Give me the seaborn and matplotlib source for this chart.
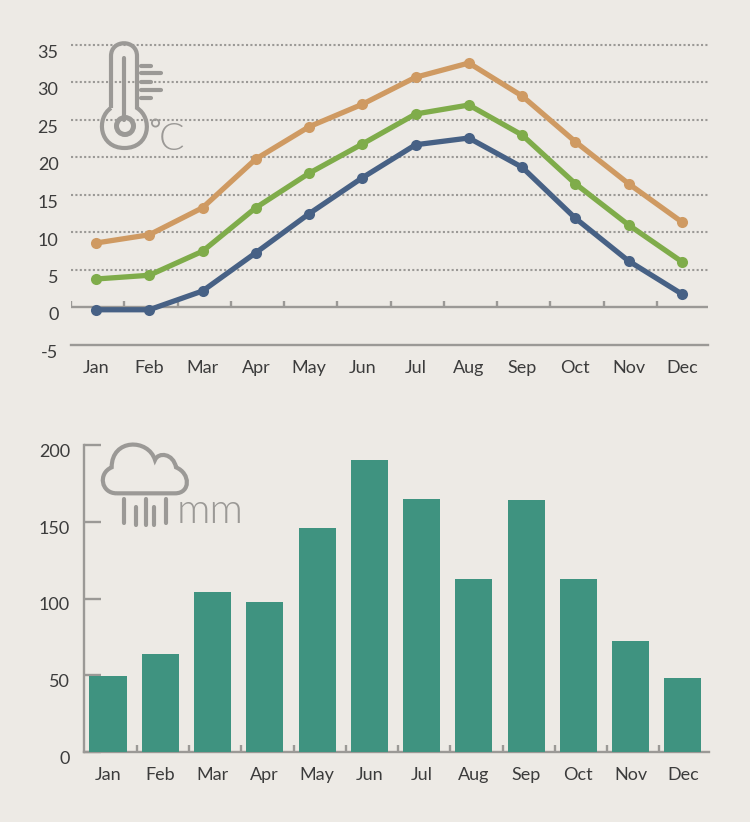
import matplotlib
matplotlib.use("Agg")
import matplotlib.pyplot as plt
import seaborn as sns
import pandas as pd
from matplotlib import font_manager as fm
from matplotlib.patches import Circle, PathPatch
from matplotlib.path import Path
from matplotlib.transforms import ScaledTranslation

months = ["Jan", "Feb", "Mar", "Apr", "May", "Jun", "Jul", "Aug", "Sep", "Oct", "Nov", "Dec"]
temp_high = [8.6, 9.7, 13.3, 19.8, 24.1, 27.1, 30.7, 32.6, 28.2, 22.1, 16.5, 11.4]
temp_mean = [3.8, 4.3, 7.5, 13.3, 17.9, 21.8, 25.8, 27.0, 23.0, 16.5, 11.0, 6.1]
temp_low = [-0.3, -0.3, 2.2, 7.3, 12.5, 17.3, 21.7, 22.6, 18.7, 11.9, 6.2, 1.8]
rain_mm = [49.5, 64, 104, 98, 146, 190, 165, 113, 164, 113, 72, 48]
temp_ticks = [-5, 0, 5, 10, 15, 20, 25, 30, 35]
rain_ticks = [0, 50, 100, 150, 200]

BG = "#EDEAE5"
GREY = "#9B9996"
TEXT = "#3C3C3C"
ORANGE = "#CF9A62"
GREEN = "#7FAC4A"
BLUE = "#476185"
TEAL = "#3F9380"

sns.set_theme(style="white")
plt.rcParams["font.family"] = ["Lato", "DejaVu Sans"]
W, H = 750, 822
fig = plt.figure(figsize=(W / 100, H / 100), dpi=100, facecolor=BG)


def light_font(size):
    # pick a real Light cut (weight "light" alone can resolve to Hairline)
    for fam in ("Lato", "Roboto", "Open Sans", "Noto Sans"):
        for f in fm.fontManager.ttflist:
            base = f.fname.rsplit("/", 1)[-1]
            if f.name == fam and "Light" in base and "Italic" not in base \
                    and "Extra" not in base and "Semi" not in base:
                return fm.FontProperties(fname=f.fname, size=size)
    return fm.FontProperties(family="Lato", size=size)


def px_axes(left, right, top, bottom):
    return fig.add_axes([left / W, 1 - bottom / H, (right - left) / W, (bottom - top) / H])


def shift_labels(ax, dy_px):
    off = ScaledTranslation(0, -dy_px / 100, fig.dpi_scale_trans)
    for lab in ax.get_yticklabels():
        lab.set_transform(lab.get_transform() + off)


# ---------- temperature ----------
ax = px_axes(71, 708, 45, 345)
ax.set_facecolor("none")
df = pd.DataFrame({
    "month": months * 3,
    "temp": temp_high + temp_mean + temp_low,
    "series": ["high"] * 12 + ["mean"] * 12 + ["low"] * 12,
})
sns.lineplot(data=df, x="month", y="temp", hue="series",
             palette={"high": ORANGE, "mean": GREEN, "low": BLUE},
             linewidth=3.8, marker="o", markersize=8, markeredgewidth=0,
             legend=False, ax=ax, zorder=4, clip_on=False, sort=False)
ax.set_xlim(-0.47, 11.49)
ax.set_ylim(-5, 35)
ax.set_xlabel("")
ax.set_ylabel("")
ax.set_yticks(temp_ticks)
ax.set_yticklabels([str(t) for t in temp_ticks])
ax.set_xticks(range(12))
ax.set_xticklabels(months)
ax.tick_params(axis="both", length=0, labelsize=13, labelcolor=TEXT)
ax.tick_params(axis="x", pad=11)
ax.tick_params(axis="y", pad=9)
for t in temp_ticks[2:]:
    ax.axhline(t, color=GREY, lw=1.5, ls=(0, (1, 1.1)), zorder=1, clip_on=False)
ax.axhline(0, color=GREY, lw=1.7, zorder=2)
ax.vlines([i - 0.47 for i in range(13)], 0, 0.85, color=GREY, lw=1.7, zorder=2)
for s in ["top", "left", "right"]:
    ax.spines[s].set_visible(False)
ax.spines["bottom"].set_color(GREY)
ax.spines["bottom"].set_linewidth(1.7)
shift_labels(ax, 6.5)

# ---------- rainfall ----------
ax2 = px_axes(84, 709, 445, 752)
ax2.set_facecolor("none")
sns.barplot(x=months, y=rain_mm, color=TEAL, saturation=1, width=0.71,
            linewidth=0, edgecolor="none", ax=ax2, zorder=3)
ax2.set_xlim(-0.46, 11.5)
ax2.set_ylim(0, 200)
ax2.set_yticks(rain_ticks)
ax2.set_yticklabels([str(t) for t in rain_ticks])
ax2.set_xticks(range(12))
ax2.set_xticklabels(months)
ax2.set_axisbelow(True)
ax2.tick_params(axis="y", left=True, direction="in", length=12, width=1.7, color=GREY,
                labelsize=13, labelcolor=TEXT, pad=10)
ax2.tick_params(axis="x", length=0, labelsize=13, labelcolor=TEXT, pad=11)
ax2.vlines([i + 0.55 for i in range(12)], 0, 4.5, color=GREY, lw=1.7, zorder=4)
for s in ["top", "right"]:
    ax2.spines[s].set_visible(False)
for s in ["left", "bottom"]:
    ax2.spines[s].set_color(GREY)
    ax2.spines[s].set_linewidth(1.7)
shift_labels(ax2, 5.5)

# ---------- icons (pixel coordinates) ----------
ov = fig.add_axes([0, 0, 1, 1], facecolor="none", zorder=10)
ov.set_xlim(0, W)
ov.set_ylim(H, 0)
ov.axis("off")
ICON = "#9B9996"
LW = 3.0

# thermometer outline
M, L, C = Path.MOVETO, Path.LINETO, Path.CURVE4
th_verts = [(111, 108), (111, 56), (111, 39), (137, 39), (137, 56), (137, 108),
            (153, 118), (150, 148), (124.5, 148), (99, 148), (96, 118), (111, 108)]
th_codes = [M, L, C, C, C, L, C, C, C, C, C, C]
ov.add_patch(PathPatch(Path(th_verts, th_codes), fc="none", ec=ICON, lw=LW))
ov.plot([124, 124], [58, 120], color=ICON, lw=LW, solid_capstyle="round")
ov.add_patch(Circle((125, 126), 8.5, fc="none", ec=ICON, lw=LW + 0.6))
for y, x1 in zip([66, 73.5, 82, 90, 98], [151, 161, 151, 161, 151]):
    ov.plot([141, x1], [y, y], color=ICON, lw=LW, solid_capstyle="round")
ov.add_patch(Circle((155.5, 123), 3.6, fc="none", ec=ICON, lw=1.3))
ov.text(159, 150, "C", fontproperties=light_font(27), color=ICON, ha="left", va="baseline")


# cloud outline, traced in crop coordinates of a 3x view
def cz(x, y):
    return (50 + x / 3, 430 + y / 3)


cl = [(200, 190), (375, 190), (422, 190), (422, 130), (378, 112),
      (370, 70), (325, 65), (315, 90), (295, 25), (185, 25), (185, 112),
      (143, 130), (153, 190), (200, 190)]
cl_codes = [M, L, C, C, C, C, C, C, C, C, C, C, C, C]
ov.add_patch(PathPatch(Path([cz(*p) for p in cl], cl_codes), fc="none", ec=ICON, lw=LW))
for x, y0, y1 in [(222, 208, 280), (258, 230, 285), (288, 208, 285), (312, 230, 285), (348, 208, 280)]:
    p0, p1 = cz(x, y0), cz(x, y1)
    ov.plot([p0[0], p1[0]], [p0[1], p1[1]], color=ICON, lw=LW, solid_capstyle="round")
ov.text(177, 523, "mm", fontproperties=light_font(30), color=ICON, ha="left", va="baseline")

fig.savefig("out.png", dpi=100, facecolor=BG)
